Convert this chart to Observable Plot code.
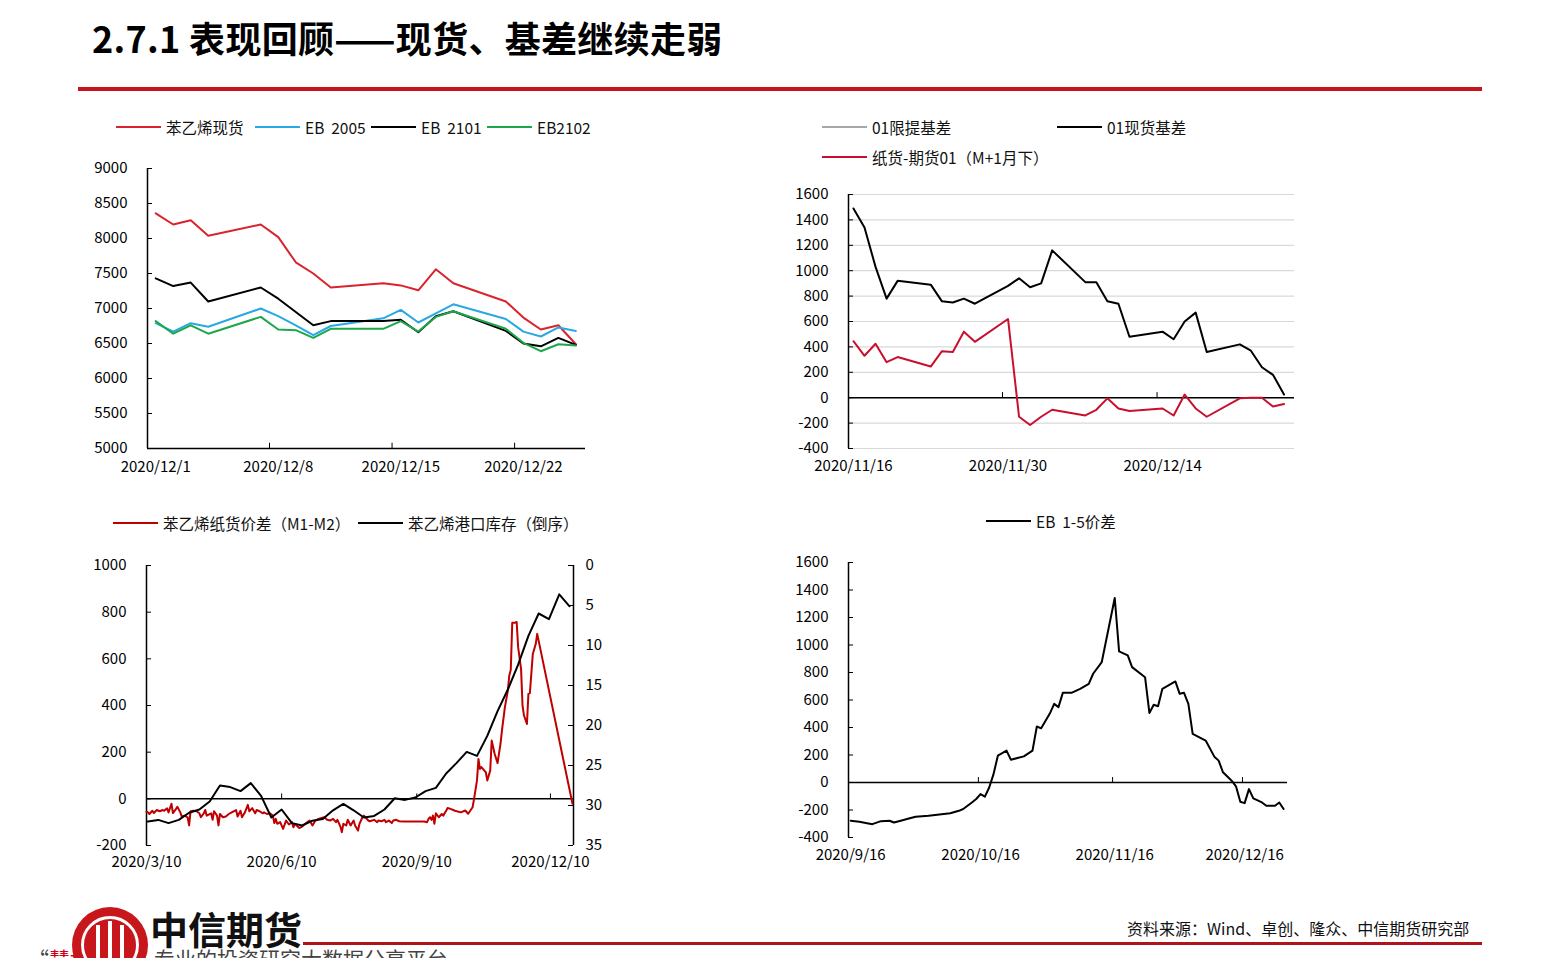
<!DOCTYPE html>
<html><head><meta charset="utf-8">
<script src="https://cdn.jsdelivr.net/npm/d3@7"></script>
<script src="https://cdn.jsdelivr.net/npm/@observablehq/plot@0.6"></script>
<style>
body{margin:0;background:#fff;}
#page{position:relative;width:1560px;height:958px;overflow:hidden;font-family:"Noto Sans CJK SC","Noto Sans",sans-serif;color:#000;background:#fff;}
.abs{position:absolute;}
.title{left:92px;top:19px;font-size:36px;font-weight:700;line-height:1;white-space:nowrap;letter-spacing:0.3px;}
.leg{position:absolute;display:flex;align-items:center;font-size:15.5px;white-space:pre;line-height:20px;height:20px;color:#111;}
.leg .ln{display:inline-block;height:2px;margin-right:5px;}
</style></head>
<body><div id="page"></div>
<script>
// ---------------- DATA ----------------
// Panel 1: styrene spot vs futures (2020/12)
const p1Dates = ["2020-12-01","2020-12-02","2020-12-03","2020-12-04","2020-12-07","2020-12-08","2020-12-09","2020-12-10","2020-12-11","2020-12-14","2020-12-15","2020-12-16","2020-12-17","2020-12-18","2020-12-21","2020-12-22","2020-12-23","2020-12-24","2020-12-25"];
const spotPrice = [8360,8200,8260,8040,8200,8020,7660,7500,7300,7360,7330,7260,7560,7360,7100,6870,6700,6760,6490];
const eb2005 = [6790,6670,6790,6740,7000,6890,6760,6620,6750,6860,6980,6800,6930,7060,6850,6670,6600,6730,6680];
const eb2101 = [7430,7320,7370,7100,7300,7140,6950,6760,6820,6820,6840,6660,6890,6960,6680,6500,6460,6580,6480];
const eb2102 = [6820,6640,6760,6640,6880,6700,6690,6580,6710,6710,6820,6670,6880,6960,6710,6510,6390,6490,6470];
const p1XLabels = ["2020/12/1","2020/12/8","2020/12/15","2020/12/22"];
const p1YTicks = [5000,5500,6000,6500,7000,7500,8000,8500,9000];

// Panel 2: basis (2020/11/16 - 2020/12/25)
const p2Dates = ["2020-11-16","2020-11-17","2020-11-18","2020-11-19","2020-11-20","2020-11-23","2020-11-24","2020-11-25","2020-11-26","2020-11-27","2020-11-30","2020-12-01","2020-12-02","2020-12-03","2020-12-04","2020-12-07","2020-12-08","2020-12-09","2020-12-10","2020-12-11","2020-12-14","2020-12-15","2020-12-16","2020-12-17","2020-12-18","2020-12-21","2020-12-22","2020-12-23","2020-12-24","2020-12-25"];
const spotBasis01 = [1490,1340,1030,780,920,890,760,750,780,740,880,940,870,900,1160,910,910,760,740,480,520,460,600,670,360,420,370,240,180,25];
const paperMinusFut01 = [445,330,425,280,320,245,365,360,520,440,620,-150,-215,-150,-95,-140,-95,-5,-85,-105,-85,-140,25,-85,-150,-5,0,0,-70,-50];
const p2XLabels = ["2020/11/16","2020/11/30","2020/12/14"];
const p2YTicks = [-400,-200,0,200,400,600,800,1000,1200,1400,1600];

// Panel 3: paper spread M1-M2 (days from 2020/3/10) & port inventory (weekly)
const spreadDays = [0,1,2,4,5,7,9,11,12,14,15,17,18,20,21,23,24,26,28,29,30,32,34,36,37,39,40,41,44,45,46,48,49,50,52,54,56,58,61,62,64,65,67,69,70,72,74,75,77,79,80,82,84,86,87,88,89,91,93,95,97,99,100,101,104,106,108,111,113,115,117,121,123,125,127,129,130,132,133,134,136,137,139,141,142,144,145,147,148,149,151,152,155,157,158,160,162,163,165,167,168,170,172,175,180,184,189,191,192,193,194,195,196,197,199,201,202,204,205,207,210,214,217,219,222,223,225,226,227,228,230,231,232,234,235,237,239,241,242,244,246,247,248,249,251,252,253,255,256,257,259,260,261,263,265,266,290];
const spreadM1M2 = [-55,-58,-65,-51,-61,-48,-53,-48,-51,-41,-58,-21,-61,-44,-34,-58,-76,-72,-79,-114,-53,-51,-53,-62,-79,-62,-48,-72,-62,-90,-53,-72,-114,-65,-79,-76,-65,-58,-48,-76,-51,-79,-58,-26,-53,-40,-62,-48,-53,-62,-58,-65,-62,-72,-104,-86,-107,-100,-129,-93,-110,-100,-122,-107,-125,-119,-107,-93,-114,-93,-86,-79,-90,-93,-86,-100,-90,-119,-143,-107,-114,-90,-114,-93,-114,-136,-107,-79,-72,-79,-93,-96,-90,-100,-93,-96,-90,-100,-93,-104,-93,-90,-96,-97,-97,-97,-97,-100,-86,-79,-90,-72,-107,-62,-79,-65,-72,-51,-39,-43,-51,-58,-50,-64,-36,0,79,171,128,136,121,114,79,121,250,193,153,236,293,393,464,529,553,755,755,758,650,557,400,357,321,450,453,621,664,707,-21];
const invDates = ["2020-03-11","2020-03-18","2020-03-25","2020-04-01","2020-04-08","2020-04-15","2020-04-22","2020-04-29","2020-05-06","2020-05-13","2020-05-20","2020-05-27","2020-06-03","2020-06-10","2020-06-17","2020-06-24","2020-07-01","2020-07-08","2020-07-15","2020-07-22","2020-07-29","2020-08-05","2020-08-12","2020-08-19","2020-08-26","2020-09-02","2020-09-09","2020-09-16","2020-09-23","2020-09-30","2020-10-07","2020-10-14","2020-10-21","2020-10-28","2020-11-04","2020-11-11","2020-11-18","2020-11-25","2020-12-02","2020-12-09","2020-12-16","2020-12-23"];
const portInventory = [32.0,31.8,32.2,31.8,30.9,30.5,29.5,27.5,27.7,28.2,27.2,28.8,31.5,30.5,32.2,32.5,31.9,31.7,30.6,29.8,30.6,31.5,31.3,30.5,29.1,29.3,29.0,28.2,27.8,26.0,24.7,23.3,23.8,21.3,18.2,15.5,12.4,8.8,6.0,6.7,3.6,5.1];
const p3XLabels = ["2020/3/10","2020/6/10","2020/9/10","2020/12/10"];
const p3YTicks = [-200,0,200,400,600,800,1000];
const p3Y2Ticks = [0,5,10,15,20,25,30,35];

// Panel 4: EB 1-5 spread (days from 2020/9/16)
const eb15Days = [0,2,5,7,9,10,12,13,15,18,23,25,26,28,29,30,31,32,33,34,36,37,40,42,43,44,46,47,48,49,51,53,55,56,58,61,62,64,65,68,69,70,71,72,75,76,77,78,79,82,84,85,86,88,89,90,91,92,93,95,96,98,99,100];
const eb15Spread = [-278,-286,-303,-281,-278,-291,-274,-266,-249,-242,-223,-206,-193,-145,-120,-84,-103,-36,61,195,232,166,190,232,407,394,501,572,548,652,652,681,718,791,876,1342,954,925,839,766,506,565,555,681,735,645,652,572,353,305,188,159,74,13,-28,-140,-150,-48,-116,-145,-169,-169,-145,-193];
const p4XLabels = ["2020/9/16","2020/10/16","2020/11/16","2020/12/16"];
const p4YTicks = [-400,-200,0,200,400,600,800,1000,1200,1400,1600];

// ---------------- HELPERS ----------------
const page = document.getElementById("page");
const FONT = '"Noto Sans CJK SC","Noto Sans",sans-serif';
const dayMs = 864e5;
const isoDay = (s, base) => (Date.parse(s + "T00:00:00Z") - Date.parse(base + "T00:00:00Z")) / dayMs;
const slashDay = (s, base) => { const [y,m,d] = s.split("/").map(Number); return (Date.UTC(y, m-1, d) - Date.parse(base + "T00:00:00Z")) / dayMs; };
const fmtNum = d => String(d);
function add(el, left, top){ el.style.position = "absolute"; el.style.left = left + "px"; el.style.top = top + "px"; page.appendChild(el); return el; }
function legend(left, top, color, label, len = 45){
  const d = document.createElement("div"); d.className = "leg";
  d.innerHTML = `<span class="ln" style="width:${len}px;background:${color}"></span><span>${label}</span>`;
  d.style.left = left + "px"; d.style.top = (top - 10) + "px"; page.appendChild(d);
}
const styleBase = {fontFamily: FONT, fontSize: "15px", color: "#000", background: "transparent", overflow: "visible"};

const RED1 = "#D9232D", BLUE = "#28A9E1", GREEN = "#1DA64A", RED2 = "#C8102E", RED3 = "#C00000", GRAY = "#A6A6A6";

// ---------------- TITLE ----------------
const t = document.createElement("div"); t.className = "abs title"; t.textContent = "2.7.1 表现回顾——现货、基差继续走弱"; page.appendChild(t);
const bar = document.createElement("div"); bar.style.cssText = "width:1404px;height:4px;background:#C4161C;"; add(bar, 78, 87);

// ---------------- PANEL 1 ----------------
legend(116, 127, RED1, "苯乙烯现货");
legend(255, 127, BLUE, "EB  2005");
legend(371, 127, "#000", "EB  2101");
legend(487, 127, GREEN, "EB2102");
{
  const x = p1Dates.map(d => isoDay(d, "2020-12-01"));
  const rows = x.map((xi, i) => ({x: xi, spot: spotPrice[i], a: eb2005[i], b: eb2101[i], c: eb2102[i]}));
  const lx = p1XLabels.map(s => slashDay(s, "2020-12-01"));
  const x0 = -0.47, x1 = 24.55, W = 530, mL = 67, mR = 25;
  const innerW = W - mL - mR;
  const svg = Plot.plot({
    width: W, height: 330, marginLeft: mL, marginRight: mR, marginTop: 18, marginBottom: 32,
    style: styleBase,
    x: {domain: [x0, x1]}, y: {domain: [5000, 9000]},
    marks: [
      Plot.axisY({ticks: p1YTicks, tickSize: 0, tickPadding: 20, label: null, tickFormat: fmtNum}),
      Plot.tickY(p1YTicks, {y: d => d, insetRight: innerW - 5, stroke: "#000"}),
      Plot.axisX({ticks: lx, tickFormat: (d) => p1XLabels[lx.indexOf(d)], tickSize: 0, tickPadding: 13, label: null}),
      Plot.ruleX(lx.slice(1).map(v => v - 0.5), {y1: 5000, y2: 5075, stroke: "#000"}),
      Plot.ruleY([5000], {stroke: "#000", strokeWidth: 1.5}),
      Plot.ruleX([x0], {stroke: "#000", strokeWidth: 1.5}),
      Plot.line(rows, {x: "x", y: "spot", stroke: RED1, strokeWidth: 2}),
      Plot.line(rows, {x: "x", y: "a", stroke: BLUE, strokeWidth: 2}),
      Plot.line(rows, {x: "x", y: "b", stroke: "#000", strokeWidth: 2}),
      Plot.line(rows, {x: "x", y: "c", stroke: GREEN, strokeWidth: 2})
    ]
  });
  add(svg, 80, 150);
}

// ---------------- PANEL 2 ----------------
legend(822, 127, GRAY, "01限提基差");
legend(1057, 127, "#000", "01现货基差");
legend(822, 157, RED2, "纸货-期货01（M+1月下）");
{
  const x = p2Dates.map(d => isoDay(d, "2020-11-16"));
  const rows = x.map((xi, i) => ({x: xi, s: spotBasis01[i], p: paperMinusFut01[i]}));
  const lx = p2XLabels.map(s => slashDay(s, "2020-11-16"));
  const x0 = -0.45, x1 = 39.95, W = 530, mL = 68, mR = 16;
  const innerW = W - mL - mR;
  const svg = Plot.plot({
    width: W, height: 305, marginLeft: mL, marginRight: mR, marginTop: 19, marginBottom: 32,
    style: styleBase,
    x: {domain: [x0, x1]}, y: {domain: [-400, 1600]},
    marks: [
      Plot.ruleY(p2YTicks, {stroke: "#D9D9D9", strokeWidth: 1.2}),
      Plot.axisY({ticks: p2YTicks, tickSize: 0, tickPadding: 20, label: null, tickFormat: fmtNum}),
      Plot.axisX({ticks: lx, tickFormat: (d) => p2XLabels[lx.indexOf(d)], tickSize: 0, tickPadding: 12, label: null}),
      Plot.ruleY([0], {stroke: "#000", strokeWidth: 1.5}),
      Plot.ruleX(lx.slice(1).map(v => v - 0.5), {y1: 0, y2: 40, stroke: "#000"}),
      Plot.ruleX([x0], {stroke: "#000", strokeWidth: 1.5}),
      Plot.tickY(p2YTicks, {y: d => d, insetRight: innerW - 5, stroke: "#000"}),
      Plot.line(rows, {x: "x", y: "s", stroke: "#000", strokeWidth: 2}),
      Plot.line(rows, {x: "x", y: "p", stroke: RED2, strokeWidth: 2})
    ]
  });
  add(svg, 780, 175);
}

// ---------------- PANEL 3 ----------------
legend(113, 523, RED3, "苯乙烯纸货价差（M1-M2）");
legend(358, 523, "#000", "苯乙烯港口库存（倒序）");
{
  const invToY = v => 1000 - v * 1200 / 35;
  const yToInv = y => (1000 - y) * 35 / 1200;
  const spread = spreadDays.map((d, i) => ({x: d, y: spreadM1M2[i]}));
  const inv = invDates.map((d, i) => ({x: isoDay(d, "2020-03-10"), y: invToY(portInventory[i])}));
  const lx = p3XLabels.map(s => slashDay(s, "2020-03-10"));
  const x0 = 0, x1 = 290.7, W = 530, mL = 66, mR = 37;
  const innerW = W - mL - mR;
  const y2 = p3Y2Ticks.map(invToY);
  const svg = Plot.plot({
    width: W, height: 330, marginLeft: mL, marginRight: mR, marginTop: 20, marginBottom: 30,
    style: styleBase,
    x: {domain: [x0, x1]}, y: {domain: [-200, 1000]},
    marks: [
      Plot.axisY({ticks: p3YTicks, tickSize: 0, tickPadding: 20, label: null, tickFormat: fmtNum}),
      Plot.axisY({anchor: "right", ticks: y2, tickSize: 0, tickPadding: 12, label: null, tickFormat: y => String(Math.round(yToInv(y)))}),
      Plot.tickY(p3YTicks, {y: d => d, insetRight: innerW - 5, stroke: "#000"}),
      Plot.tickY(y2, {y: d => d, insetLeft: innerW - 5, stroke: "#000"}),
      Plot.axisX({ticks: lx, tickFormat: (d) => p3XLabels[lx.indexOf(d)], tickSize: 0, tickPadding: 11, label: null}),
      Plot.ruleY([0], {stroke: "#000", strokeWidth: 1.5}),
      Plot.ruleX(lx.slice(1), {y1: 0, y2: 21, stroke: "#000"}),
      Plot.ruleX([x0, x1], {stroke: "#000", strokeWidth: 1.5}),
      Plot.line(spread, {x: "x", y: "y", stroke: RED3, strokeWidth: 2}),
      Plot.line(inv, {x: "x", y: "y", stroke: "#000", strokeWidth: 2})
    ]
  });
  add(svg, 80, 545);
}

// ---------------- PANEL 4 ----------------
legend(986, 521, "#000", "EB  1-5价差");
{
  const rows = eb15Days.map((d, i) => ({x: d, y: eb15Spread[i]}));
  const lx = p4XLabels.map(s => slashDay(s, "2020-09-16"));
  const x0 = -0.5, x1 = 100.9, W = 530, mL = 68, mR = 23;
  const innerW = W - mL - mR;
  const svg = Plot.plot({
    width: W, height: 330, marginLeft: mL, marginRight: mR, marginTop: 17, marginBottom: 38,
    style: styleBase,
    x: {domain: [x0, x1]}, y: {domain: [-400, 1600]},
    marks: [
      Plot.axisY({ticks: p4YTicks, tickSize: 0, tickPadding: 20, label: null, tickFormat: fmtNum}),
      Plot.tickY(p4YTicks, {y: d => d, insetRight: innerW - 5, stroke: "#000"}),
      Plot.axisX({ticks: lx, tickFormat: (d) => p4XLabels[lx.indexOf(d)], tickSize: 0, tickPadding: 12, label: null}),
      Plot.ruleY([0], {stroke: "#000", strokeWidth: 1.5}),
      Plot.ruleX(lx.slice(1).map(v => v - 0.5), {y1: 0, y2: 36, stroke: "#000"}),
      Plot.ruleX([x0], {stroke: "#000", strokeWidth: 1.5}),
      Plot.line(rows, {x: "x", y: "y", stroke: "#000", strokeWidth: 2})
    ]
  });
  add(svg, 780, 545);
}

// ---------------- FOOTER ----------------
{
  const slog = document.createElement("div");
  slog.style.cssText = "font-size:21px;line-height:1;white-space:nowrap;color:#444;";
  slog.innerHTML = '“<span style="color:#D0021B">慧博智能</span>”专业的投资研究大数据分享平台'; add(slog, 28, 948);
  const logo = document.createElement("div");
  logo.style.cssText = "width:76px;height:76px;border-radius:50%;background:#C8161D;box-sizing:border-box;z-index:2;";
  logo.innerHTML = '<div style="position:absolute;left:9px;top:9px;width:58px;height:58px;border-radius:50%;border:3px solid #fff;box-sizing:border-box;"></div>' +
    '<div style="position:absolute;left:24px;top:18px;width:4px;height:40px;background:#fff"></div>' +
    '<div style="position:absolute;left:36px;top:14px;width:4px;height:44px;background:#fff"></div>' +
    '<div style="position:absolute;left:48px;top:18px;width:4px;height:40px;background:#fff"></div>';
  add(logo, 72, 907);
  const brand = document.createElement("div");
  brand.style.cssText = "font-size:38px;font-weight:700;line-height:1;white-space:nowrap;color:#111;background:transparent;";
  brand.textContent = "中信期货"; add(brand, 150, 909);
  const fl = document.createElement("div"); fl.style.cssText = "width:1179px;height:3px;background:#B0141B;"; add(fl, 303, 942);
  const src = document.createElement("div");
  src.style.cssText = "font-size:16px;line-height:1;white-space:nowrap;color:#111;";
  src.textContent = "资料来源：Wind、卓创、隆众、中信期货研究部"; add(src, 1127, 920);
}
</script>
</body></html>
